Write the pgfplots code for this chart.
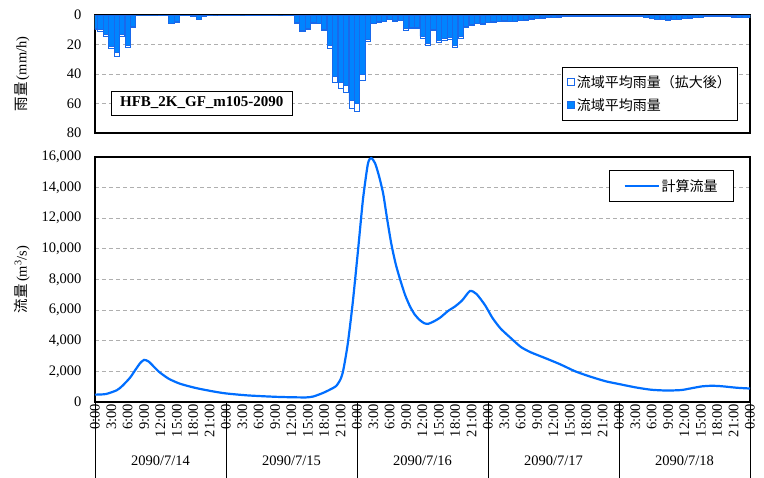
\documentclass[border=0pt]{standalone}
\usepackage{fontspec}
\setmainfont{Liberation Serif}
\newfontfamily\jp{Noto Sans CJK JP}
\usepackage{graphicx}
\usepackage{pgfplots}
\pgfplotsset{compat=1.18}
\usepackage{pgfplotstable}

\definecolor{barfill}{RGB}{0,132,255}
\definecolor{barline}{RGB}{25,105,235}
\definecolor{flow}{RGB}{0,110,255}
\definecolor{gridc}{RGB}{175,175,175}

% hourly basin rainfall: raw and expanded (mm/h)
\pgfplotstableread{
h raw exp
0 9 9.8
1 10 10.9
2 13 14.2
3 21 22.9
4 25.5 27.8
5 13 14.2
6 20.5 22.3
7 7.5 8.2
8 0 0
9 0 0
10 0 0
11 0 0
12 0.4 0.4
13 0.4 0.4
14 5.5 6.0
15 4.5 4.9
16 0.4 0.4
17 0.4 0.4
18 1 1.1
19 3 3.3
20 1 1.1
21 0.4 0.4
22 0 0
23 0.3 0.3
24 0.3 0.3
25 0.3 0.3
26 0.3 0.3
27 0 0
28 0.3 0.3
29 0.3 0.3
30 0.3 0.3
31 0.3 0.3
32 0.3 0.3
33 0.3 0.3
34 0 0
35 0.3 0.3
36 0.3 0.3
37 5 5.5
38 10.5 11.4
39 9.2 10.0
40 5 5.5
41 5.5 6.0
42 9.6 10.5
43 20.7 22.6
44 41.8 45.6
45 46 50.1
46 48 52.3
47 58 63.2
48 60 65.4
49 40.5 44.1
50 16.7 18.2
51 5.5 6.0
52 4.6 5.0
53 4.2 4.6
54 3 3.3
55 3.8 4.1
56 3.5 3.8
57 9.3 10.1
58 8.2 8.9
59 8.6 9.4
60 14.4 15.7
61 19 20.7
62 9.8 10.7
63 17.3 18.9
64 16 17.4
65 15 16.4
66 20.5 22.3
67 14.3 15.6
68 7.9 8.6
69 6.2 6.8
70 5.5 6.0
71 5.9 6.4
72 4.8 5.2
73 4.4 4.8
74 4.2 4.6
75 3.8 4.1
76 4 4.4
77 4.1 4.5
78 3.6 3.9
79 3.1 3.4
80 2.6 2.8
81 2 2.2
82 1.8 2.0
83 1.5 1.6
84 1.3 1.4
85 1.2 1.3
86 1 1.1
87 0.9 1.0
88 0.9 1.0
89 0.7 0.8
90 0.6 0.7
91 0.6 0.7
92 0.6 0.7
93 0.6 0.7
94 0.6 0.7
95 0.6 0.7
96 0.6 0.7
97 0.6 0.7
98 0.6 0.7
99 0.6 0.7
100 0.9 1.0
101 1.6 1.7
102 2.3 2.5
103 2.8 3.1
104 3 3.3
105 3.2 3.5
106 3 3.3
107 2.8 3.1
108 2.3 2.5
109 1.8 2.0
110 1.5 1.6
111 1.3 1.4
112 1 1.1
113 1 1.1
114 1 1.1
115 1 1.1
116 1 1.1
117 1.2 1.3
118 1.5 1.6
119 1.6 1.7
120 1.6 1.7
}\rain

% computed discharge (m3/s)
\pgfplotstableread{
h q
0 480
2 520
4 770
5 1050
6.4 1580
7.5 2150
8.3 2550
9 2750
9.8 2650
10.8 2300
11.7 1980
13.5 1520
15.6 1190
18.4 920
21.5 700
24 560
28 430
33 340
36 310
38.7 300
40 360
41.7 580
43 800
44.2 1050
45 1500
45.5 2100
46.3 3780
47.2 6420
48.2 9950
49.1 13250
50 15560
50.6 15930
51.3 15600
52 14800
52.8 13600
53.5 12000
54.3 10300
55.1 9000
55.9 8000
56.8 7000
57.7 6250
58.6 5700
59.5 5350
60.3 5150
61 5100
62 5250
63.2 5500
64.7 5950
66 6250
67.3 6650
68.7 7250
69.9 7050
71.5 6300
72.8 5500
74.3 4800
76.1 4200
78 3600
79.8 3250
82.6 2850
85.3 2450
88 2000
90.8 1650
93.6 1350
96.3 1150
99.1 950
101.9 800
104.7 750
107.4 780
109.3 900
111.2 1020
113 1060
114.8 1030
117.6 930
120 880
}\flowtab

\newcommand\tl{\fontsize{14.5}{17}\selectfont}
\newcommand\rl[1]{\rotatebox{90}{#1}}

\pgfplotsset{
  every axis/.append style={
    scale only axis, width=655pt, font=\tl,
    xmin=0, xmax=120,
    axis line style={line width=1.5pt},
    ymajorgrids, grid style={gridc, dash pattern=on 4pt off 3pt, line width=0.8pt},
    major tick length=0pt,
    yticklabel style={xshift=-10pt},
    /pgf/number format/assume math mode=true,
    every axis y label/.style={at={(axis description cs:-0.1115,0.5)}, rotate=90, anchor=center},
    legend cell align=left,
  },
}

\begin{document}
\begin{tikzpicture}
\path[use as bounding box] (0,0) rectangle (764pt,-478pt);

% rainfall panel
\begin{axis}[
  at={(95pt,-133pt)}, anchor=south west, height=118pt,
  ymin=0, ymax=80, y dir=reverse,
  xtick=\empty, ytick={0,20,40,60,80},
  ylabel={{\jp 雨量}\,(mm/h)},
  legend style={at={(0.982,0.56)}, anchor=north east, draw=black, line width=0.8pt,
    font={\jp\fontsize{14}{16}\selectfont}, row sep=6pt, inner xsep=5pt, inner ysep=6pt},
  ybar, bar width=0.95,
]
\addplot[bar shift=0pt, fill=white, draw=barline, line width=0.8pt,
  legend image code/.code={\draw[fill=white, draw=barline, line width=0.9pt] (0pt,-3.5pt) rectangle (7pt,3.5pt);}]
  table[x=h,y=exp]{\rain};
\addlegendentry{流域平均雨量（拡大後）}
\addplot[bar shift=0pt, fill=barfill, draw=barline, line width=0.8pt,
  legend image code/.code={\draw[fill=barfill, draw=barline, line width=0.9pt] (0pt,-3.5pt) rectangle (7pt,3.5pt);}]
  table[x=h,y=raw]{\rain};
\addlegendentry{流域平均雨量}
\node[draw, fill=white, line width=0.8pt, font=\bfseries\fontsize{15}{17}\selectfont, inner xsep=9pt, inner ysep=6pt]
  at (axis description cs:0.163,0.254) {HFB\_2K\_GF\_m105-2090};
\end{axis}

% discharge panel
\begin{axis}[
  at={(95pt,-402pt)}, anchor=south west, height=245pt,
  ymin=0, ymax=16000, ytick={0,2000,...,16000},
  scaled y ticks=false,
  yticklabel style={/pgf/number format/.cd, fixed, 1000 sep={,}},
  ylabel={{\jp 流量}\,(m\textsuperscript{3}/s)},
  xtick={0,3,...,120},
  xticklabels={\rl{0:00},\rl{3:00},\rl{6:00},\rl{9:00},\rl{12:00},\rl{15:00},\rl{18:00},\rl{21:00},
    \rl{0:00},\rl{3:00},\rl{6:00},\rl{9:00},\rl{12:00},\rl{15:00},\rl{18:00},\rl{21:00},
    \rl{0:00},\rl{3:00},\rl{6:00},\rl{9:00},\rl{12:00},\rl{15:00},\rl{18:00},\rl{21:00},
    \rl{0:00},\rl{3:00},\rl{6:00},\rl{9:00},\rl{12:00},\rl{15:00},\rl{18:00},\rl{21:00},
    \rl{0:00},\rl{3:00},\rl{6:00},\rl{9:00},\rl{12:00},\rl{15:00},\rl{18:00},\rl{21:00},\rl{0:00}},
  xticklabel style={inner sep=2pt},
  minor xtick={0,24,...,120},
  minor tick length=76pt,
  every minor tick/.style={black, line width=0.8pt},
  tick align=outside,
  xtick pos=left, ytick pos=left,
  extra x ticks={12,36,60,84,108},
  extra x tick labels={2090/7/14,2090/7/15,2090/7/16,2090/7/17,2090/7/18},
  extra x tick style={tick label style={yshift=-52pt}},
  legend style={at={(0.9756,0.947)}, anchor=north east, draw=black, line width=0.8pt,
    font={\jp\fontsize{14}{16}\selectfont}, inner xsep=14pt, inner ysep=7pt},
]
\addplot[flow, line width=2.2pt, smooth, tension=0.4,
  legend image code/.code={\draw[flow, line width=2.2pt] (0pt,0pt) -- (34pt,0pt);}]
  table[x=h,y=q]{\flowtab};
\addlegendentry{計算流量}
\end{axis}
\end{tikzpicture}
\end{document}
